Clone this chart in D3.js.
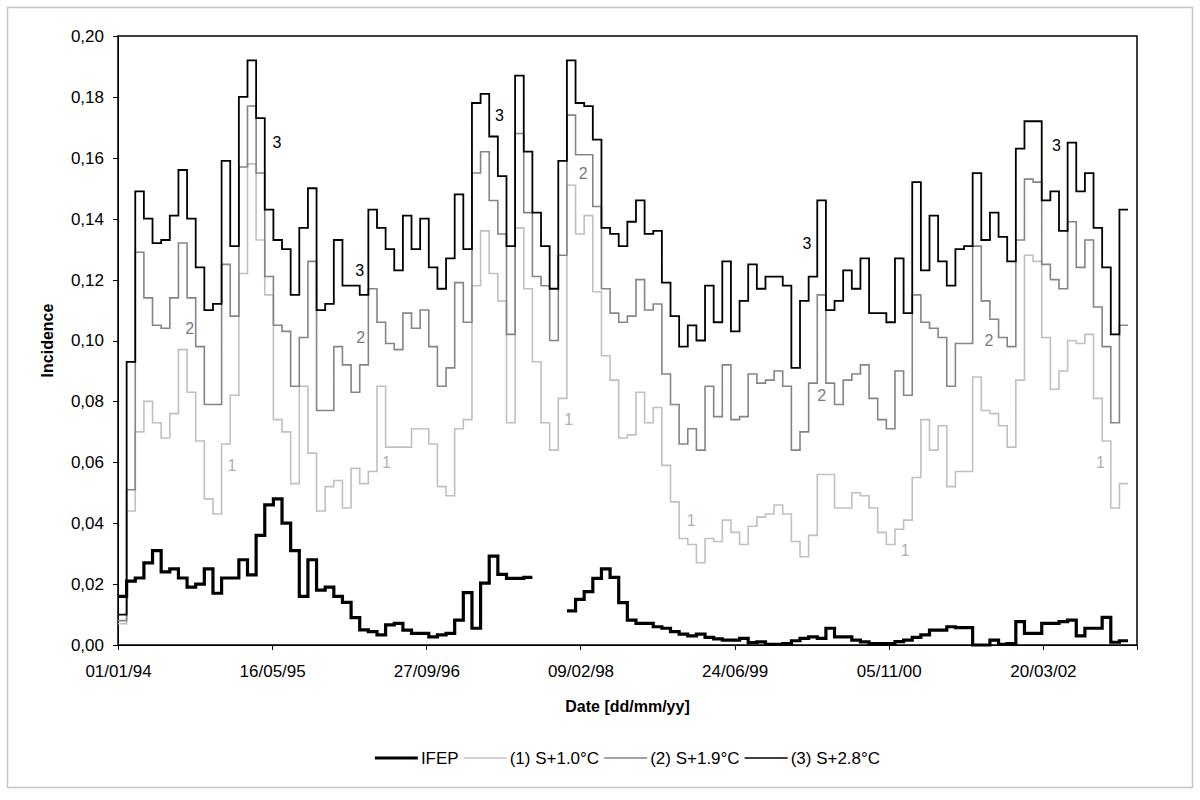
<!DOCTYPE html>
<html>
  <head>
    <meta charset="utf-8">
    <title>Incidence - IFEP and temperature scenarios</title>
    <style>
      body { margin: 0; background: #fff; }
      svg { display: block; font-family: "Liberation Sans", Arial, sans-serif; }
      .axis path, .axis line { stroke: #000; shape-rendering: crispEdges; }
      .axis text { font-size: 17px; fill: #000; }
      .title { font-size: 16px; font-weight: bold; }
      .legend text { font-size: 17px; }
      .curve-label { font-size: 16px; text-anchor: middle; dominant-baseline: central; }
    </style>
  </head>
  <body>
    <svg id="chart" width="1200" height="800"></svg>
    <script src="https://cdn.jsdelivr.net/npm/d3@7"></script>
    <script>
      // data: one value per 4-week period, starting 01/01/94
      var firstPeriod = '01/01/94';
      var periodDays = 28;
      var axisEnd = '19/01/03';

      var xTickLabels = ['01/01/94', '16/05/95', '27/09/96', '09/02/98', '24/06/99', '05/11/00', '20/03/02'];
      var yTicks = [0, 0.02, 0.04, 0.06, 0.08, 0.10, 0.12, 0.14, 0.16, 0.18, 0.20];

      var seriesNames = ['IFEP', '(1) S+1.0°C', '(2) S+1.9°C', '(3) S+2.8°C'];

      var ifep = [
        0.016, 0.021, 0.022, 0.027, 0.031, 0.024, 0.025, 0.022, 0.019, 0.020,
        0.025, 0.017, 0.022, 0.022, 0.028, 0.023, 0.036, 0.046, 0.048, 0.040,
        0.031, 0.016, 0.028, 0.018, 0.019, 0.016, 0.014, 0.009, 0.005, 0.0044,
        0.0033, 0.0066, 0.0071, 0.0049, 0.0038, 0.0038, 0.0027, 0.0033, 0.0038, 0.0082,
        0.0172, 0.0055, 0.0203, 0.0292, 0.0232, 0.0219, 0.0219, 0.0222, null, null,
        null, null, 0.0112, 0.015, 0.0175, 0.0219, 0.025, 0.0222, 0.0139, 0.0082,
        0.0071, 0.0071, 0.006, 0.0055, 0.0044, 0.0036, 0.003, 0.0036, 0.0025, 0.002,
        0.0016, 0.0016, 0.0022, 0.0008, 0.001, 0.0002, 0.0002, 0.0005, 0.0014, 0.0022,
        0.0027, 0.0022, 0.0055, 0.0027, 0.0027, 0.0016, 0.001, 0.0005, 0.0005, 0.0005,
        0.0011, 0.0016, 0.0025, 0.0033, 0.0049, 0.0049, 0.006, 0.0057, 0.0057, 0,
        0, 0.0016, 0.0002, 0.0005, 0.0077, 0.0038, 0.0038, 0.0071, 0.0071, 0.0077,
        0.0082, 0.003, 0.0055, 0.0055, 0.0091, 0.0009, 0.0014
      ];

      var s1 = [
        0.007, 0.044, 0.070, 0.080, 0.073, 0.068, 0.076, 0.097, 0.083, 0.067,
        0.048, 0.043, 0.066, 0.082, 0.122, 0.158, 0.133, 0.115, 0.074, 0.070,
        0.053, 0.085, 0.063, 0.044, 0.052, 0.054, 0.045, 0.058, 0.053, 0.057,
        0.085, 0.065, 0.065, 0.065, 0.071, 0.071, 0.066, 0.052, 0.049, 0.071,
        0.074, 0.118, 0.136, 0.122, 0.113, 0.073, 0.137, 0.117, 0.093, 0.073,
        0.064, 0.081, 0.151, 0.135, 0.141, 0.116, 0.095, 0.087, 0.068, 0.069,
        0.083, 0.073, 0.078, 0.059, 0.047, 0.035, 0.033, 0.027, 0.035, 0.034,
        0.041, 0.037, 0.033, 0.039, 0.042, 0.043, 0.046, 0.043, 0.034, 0.029,
        0.036, 0.056, 0.056, 0.045, 0.045, 0.050, 0.049, 0.045, 0.037, 0.033,
        0.038, 0.041, 0.055, 0.074, 0.064, 0.072, 0.052, 0.057, 0.057, 0.088,
        0.077, 0.076, 0.072, 0.065, 0.087, 0.128, 0.126, 0.101, 0.084, 0.090,
        0.100, 0.099, 0.102, 0.081, 0.067, 0.045, 0.053
      ];

      var s2 = [
        0.008, 0.051, 0.129, 0.114, 0.105, 0.104, 0.114, 0.132, 0.114, 0.098,
        0.079, 0.079, 0.125, 0.108, 0.157, 0.177, 0.155, 0.121, 0.105, 0.103,
        0.085, 0.101, 0.126, 0.077, 0.077, 0.098, 0.092, 0.083, 0.092, 0.117,
        0.106, 0.099, 0.097, 0.109, 0.104, 0.110, 0.098, 0.085, 0.091, 0.119,
        0.106, 0.155, 0.162, 0.146, 0.135, 0.102, 0.168, 0.142, 0.121, 0.118,
        0.100, 0.128, 0.174, 0.161, 0.161, 0.144, 0.117, 0.109, 0.106, 0.108,
        0.120, 0.110, 0.112, 0.089, 0.079, 0.066, 0.071, 0.064, 0.085, 0.075,
        0.092, 0.074, 0.075, 0.089, 0.086, 0.087, 0.090, 0.085, 0.064, 0.070,
        0.086, 0.115, 0.086, 0.079, 0.087, 0.089, 0.092, 0.081, 0.074, 0.071,
        0.090, 0.082, 0.115, 0.106, 0.104, 0.101, 0.085, 0.099, 0.099, 0.131,
        0.113, 0.107, 0.101, 0.098, 0.133, 0.153, 0.152, 0.125, 0.120, 0.117,
        0.139, 0.124, 0.133, 0.111, 0.098, 0.073, 0.105
      ];

      var s3 = [
        0.010, 0.093, 0.149, 0.140, 0.132, 0.133, 0.141, 0.156, 0.140, 0.124,
        0.110, 0.112, 0.159, 0.131, 0.180, 0.192, 0.173, 0.143, 0.133, 0.130,
        0.115, 0.137, 0.150, 0.110, 0.112, 0.133, 0.118, 0.118, 0.115, 0.143,
        0.137, 0.130, 0.123, 0.141, 0.130, 0.140, 0.124, 0.117, 0.127, 0.148,
        0.130, 0.178, 0.181, 0.167, 0.154, 0.131, 0.187, 0.162, 0.142, 0.131,
        0.117, 0.159, 0.192, 0.178, 0.177, 0.166, 0.137, 0.135, 0.131, 0.139,
        0.146, 0.135, 0.136, 0.119, 0.108, 0.098, 0.105, 0.100, 0.118, 0.106,
        0.126, 0.103, 0.113, 0.125, 0.117, 0.121, 0.121, 0.118, 0.091, 0.113,
        0.121, 0.146, 0.110, 0.113, 0.123, 0.117, 0.127, 0.109, 0.109, 0.106,
        0.127, 0.109, 0.152, 0.123, 0.141, 0.126, 0.118, 0.130, 0.131, 0.155,
        0.133, 0.142, 0.134, 0.126, 0.163, 0.172, 0.172, 0.146, 0.149, 0.136,
        0.165, 0.149, 0.155, 0.137, 0.124, 0.102, 0.143
      ];

      // numbers written next to the scenario curves (period index, value)
      var curveLabelText = ['3', '3', '3', '3', '3', '2', '2', '2', '2', '2', '1', '1', '1', '1', '1', '1'];
      var curveLabelPeriod = [18.4, 28.0, 44.2, 79.8, 108.7, 8.3, 28.1, 53.9, 81.5, 100.9, 13.2, 31.1, 52.2, 66.4, 91.2, 113.8];
      var curveLabelValue = [0.165, 0.123, 0.174, 0.132, 0.164, 0.104, 0.101, 0.155, 0.082, 0.100, 0.059, 0.060, 0.074, 0.041, 0.031, 0.060];

      var colors = { 'IFEP': '#000', '1': '#c0c0c0', '2': '#858585', '3': '#000' };
      var widths = { 'IFEP': 3.2, '1': 1.6, '2': 1.6, '3': 1.8 };

      var parse = d3.utcParse('%d/%m/%y');
      var t0 = parse(firstPeriod);
      function periodDate(i) { return d3.utcDay.offset(t0, i * periodDays); }

      var margin = { left: 118, right: 63, top: 36, bottom: 155 };
      var width = 1200, height = 800;

      var svg = d3.select('#chart');

      // light frame round the whole chart
      svg.append('rect')
        .attr('x', 7.5).attr('y', 7.5)
        .attr('width', 1185).attr('height', 780)
        .attr('fill', 'none')
        .attr('stroke', '#c4c4c4')
        .attr('stroke-width', 1.5);

      var x = d3.scaleUtc()
        .domain([t0, parse(axisEnd)])
        .range([margin.left, width - margin.right]);

      var y = d3.scaleLinear()
        .domain([0, 0.2])
        .range([height - margin.bottom, margin.top]);

      var commaFmt = d3.formatLocale({ decimal: ',', thousands: '.', grouping: [3], currency: ['', ''] }).format('.2f');

      // plot frame
      svg.append('rect')
        .attr('x', margin.left).attr('y', margin.top)
        .attr('width', width - margin.right - margin.left)
        .attr('height', height - margin.bottom - margin.top)
        .attr('fill', 'none')
        .attr('stroke', '#000')
        .attr('stroke-width', 1.5);

      svg.append('g')
        .attr('class', 'axis')
        .attr('transform', 'translate(' + margin.left + ',0)')
        .call(d3.axisLeft(y).tickValues(yTicks).tickSize(5).tickPadding(9).tickFormat(commaFmt))
        .call(function(g) { g.select('.domain').attr('stroke-width', 1.5); });

      svg.append('g')
        .attr('class', 'axis')
        .attr('transform', 'translate(0,' + (height - margin.bottom) + ')')
        .call(d3.axisBottom(x).tickValues(xTickLabels.map(parse)).tickSize(5).tickPadding(15)
          .tickFormat(d3.utcFormat('%d/%m/%y')))
        .call(function(g) { g.select('.domain').attr('stroke-width', 1.5); g.selectAll('line').attr('stroke', '#666'); });

      svg.append('text')
        .attr('class', 'title')
        .attr('transform', 'translate(53,' + ((margin.top + height - margin.bottom) / 2) + ') rotate(-90)')
        .attr('text-anchor', 'middle')
        .text('Incidence');

      svg.append('text')
        .attr('class', 'title')
        .attr('x', (margin.left + width - margin.right) / 2)
        .attr('y', 712)
        .attr('text-anchor', 'middle')
        .text('Date [dd/mm/yy]');

      // step lines: every period holds its value for 28 days
      function stepPoints(vals) {
        var pts = [];
        vals.forEach(function(v, i) {
          if (v === null) { pts.push(null); return; }
          pts.push([periodDate(i), v], [periodDate(i + 1), v]);
        });
        return pts;
      }

      var line = d3.line()
        .defined(function(d) { return d !== null; })
        .x(function(d) { return x(d[0]); })
        .y(function(d) { return y(d[1]); });

      var series = [
        { key: '1', values: s1 },
        { key: '2', values: s2 },
        { key: '3', values: s3 },
        { key: 'IFEP', values: ifep }
      ];

      svg.append('g').selectAll('path')
        .data(series)
        .enter()
        .append('path')
        .attr('d', function(d) { return line(stepPoints(d.values)); })
        .attr('fill', 'none')
        .attr('stroke', function(d) { return colors[d.key]; })
        .attr('stroke-width', function(d) { return widths[d.key]; })
        .attr('stroke-linejoin', 'miter');

      svg.append('g').selectAll('text')
        .data(curveLabelText)
        .enter()
        .append('text')
        .attr('class', 'curve-label')
        .attr('x', function(d, i) { return x(d3.utcHour.offset(t0, Math.round(curveLabelPeriod[i] * periodDays * 24))); })
        .attr('y', function(d, i) { return y(curveLabelValue[i]); })
        .attr('fill', function(d) { return d === '1' ? '#b0b0b0' : d === '2' ? '#7a7a7a' : '#000'; })
        .text(function(d) { return d; });

      // legend, centred under the plot
      var legendKeys = ['IFEP', '1', '2', '3'];
      var lineLen = 43;
      var legend = svg.append('g').attr('class', 'legend');
      var cursor = 0;
      legendKeys.forEach(function(k, i) {
        var item = legend.append('g').attr('transform', 'translate(' + cursor + ',0)');
        item.append('line')
          .attr('x1', 0).attr('x2', lineLen)
          .attr('y1', 0).attr('y2', 0)
          .attr('stroke', colors[k])
          .attr('stroke-width', k === 'IFEP' ? 3.2 : 1.6);
        var txt = item.append('text')
          .attr('x', lineLen + 3)
          .attr('y', 6)
          .text(seriesNames[i]);
        cursor += lineLen + 3 + txt.node().getComputedTextLength() + 5;
      });
      var legendWidth = cursor - 5;
      legend.attr('transform', 'translate(' + ((margin.left + width - margin.right) / 2 - legendWidth / 2) + ',758)');
    </script>
  </body>
</html>
